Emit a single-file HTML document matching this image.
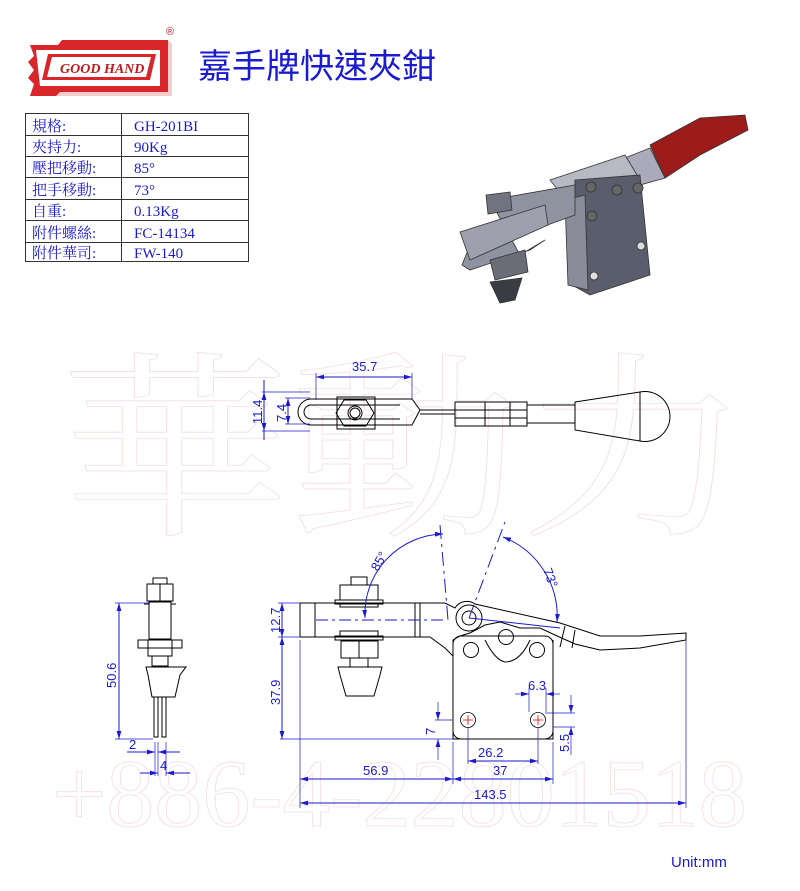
<!DOCTYPE html>
<html><head><meta charset="utf-8"><style>
html,body{margin:0;padding:0;background:#fff;}
body{width:800px;height:891px;position:relative;overflow:hidden;font-family:"Liberation Sans","Noto Sans CJK TC",sans-serif;}
svg{position:absolute;left:0;top:0;}
</style></head><body>
<svg width="800" height="891" viewBox="0 0 800 891" xmlns="http://www.w3.org/2000/svg">
<defs>
<marker id="a" viewBox="0 0 10 6" refX="10" refY="3" markerWidth="8" markerHeight="5" orient="auto-start-reverse" markerUnits="userSpaceOnUse"><path d="M0 0 L10 3 L0 6 Z" fill="#1a1ad0"/></marker>
</defs>
<!-- watermark -->
<g fill="none" stroke="#f4dede" stroke-width="0.8">
<text x="60" y="520" font-family="Liberation Serif,Noto Serif CJK SC,serif" font-size="200" textLength="690" lengthAdjust="spacingAndGlyphs">華動力</text>
<text x="52" y="826" font-family="Liberation Serif,serif" font-size="96" textLength="695" lengthAdjust="spacingAndGlyphs">+886-4-22801518</text>
</g>
<!-- logo -->
<g>
<path d="M40 48 L150 48 L152 40 L168 40 L172 44 L172 96 L40 96 Z" fill="#d33" opacity="0.25"/>
<path d="M30 45 L58 45 L62 40 L168 40 L168 92 L60 92 L56 96 L30 96 L34 84 L28 78 L34 70 L28 62 L34 56 Z" fill="#d8262a"/>
<path d="M36 50 L160 50 L160 86 L40 86 Z" fill="#fff"/>
<path d="M48 54 L156 54 L150 80 L42 80 Z" fill="#d8262a"/>
<path d="M52 57 L151 57 L146 77 L47 77 Z" fill="#fff"/>
<text x="60" y="73" font-family="Liberation Serif,serif" font-style="italic" font-weight="bold" font-size="14" fill="#c0181c">GOOD HAND</text>
<text x="166" y="35" font-size="11" fill="#c0181c">®</text>
</g>
<text x="198" y="78" font-family="Liberation Sans,Noto Sans CJK TC,sans-serif" font-size="34" fill="#1a1ad0">嘉手牌快速夾鉗</text>
<!-- table -->
<g stroke="#333" stroke-width="1" fill="none">
<rect x="25.5" y="113.5" width="223" height="148"/>
<line x1="121.5" y1="113" x2="121.5" y2="262"/>
<line x1="25" y1="135.5" x2="248" y2="135.5"/>
<line x1="25" y1="156.5" x2="248" y2="156.5"/>
<line x1="25" y1="177.5" x2="248" y2="177.5"/>
<line x1="25" y1="199.5" x2="248" y2="199.5"/>
<line x1="25" y1="220.5" x2="248" y2="220.5"/>
<line x1="25" y1="242.5" x2="248" y2="242.5"/>
</g>
<g font-family="Liberation Serif,Noto Serif CJK SC,serif" font-size="15" fill="#1a1ad0">
<text x="32" y="131">規格:</text><text x="134" y="131">GH-201BI</text>
<text x="32" y="152">夾持力:</text><text x="134" y="152">90Kg</text>
<text x="32" y="173">壓把移動:</text><text x="134" y="173">85°</text>
<text x="32" y="195">把手移動:</text><text x="134" y="195">73°</text>
<text x="32" y="216">自重:</text><text x="134" y="216">0.13Kg</text>
<text x="32" y="238">附件螺絲:</text><text x="134" y="238">FC-14134</text>
<text x="32" y="258">附件華司:</text><text x="134" y="258">FW-140</text>
</g>
<!-- 3D render approx -->
<g stroke="#333" stroke-width="0.8">
<path d="M650 145 L700 118 L745 115 L748 130 L700 155 L665 178 Z" fill="#9c1c1c"/>
<path d="M620 160 L650 148 L665 178 L640 185 Z" fill="#aab"/>
<path d="M550 180 L625 155 L640 180 L570 205 Z" fill="#b7b9c4"/>
<path d="M575 180 L640 175 L650 275 L590 295 L572 285 Z" fill="#5a5d6b"/>
<path d="M565 200 L585 195 L588 290 L568 285 Z" fill="#8a8d99"/>
<path d="M490 200 L575 185 L575 215 L520 235 L470 245 L462 265 L470 270 L530 250 L545 240 L520 255 Z" fill="#8f93a0"/>
<path d="M460 232 L545 205 L548 225 L470 260 Z" fill="#9ea1ad"/>
<path d="M486 195 L510 192 L512 210 L488 214 Z" fill="#707380"/>
<path d="M490 260 L525 250 L528 272 L495 280 Z" fill="#6a6d78"/>
<path d="M490 282 L522 278 L515 300 L500 303 Z" fill="#3a3c44"/>
<circle cx="591" cy="187" r="5" fill="#666"/><circle cx="617" cy="190" r="5" fill="#666"/><circle cx="638" cy="188" r="5" fill="#666"/>
<circle cx="592" cy="216" r="5" fill="#666"/><circle cx="641" cy="246" r="4" fill="#ddd"/><circle cx="594" cy="276" r="4" fill="#ddd"/>
</g>
<!-- top view -->
<g stroke="#000" stroke-width="1" fill="none">
<path d="M311 399 L412 399 L420 410 L412 425 L311 425 A13 13 0 0 1 311 399 Z"/>
<path d="M311 405 L400 405 M311 419 L400 419 M311 405 A7 7 0 0 0 311 419"/>
<path d="M420 410 L455 410 M420 414 L455 414"/>
<rect x="337" y="397" width="38" height="32"/>
<path d="M344 400 L366 400 L374 413 L366 426 L344 426 L336 413 Z"/>
<circle cx="355" cy="413" r="7"/><circle cx="355" cy="413" r="5"/>
<rect x="455" y="402" width="72" height="24"/>
<line x1="455" y1="410" x2="527" y2="410"/><line x1="455" y1="418" x2="527" y2="418"/>
<line x1="485" y1="402" x2="485" y2="426"/><line x1="510" y1="402" x2="510" y2="426"/>
<rect x="527" y="405" width="48" height="18"/>
<path d="M575 402 L640 392 A25 25 0 1 1 640 441 L575 430 Z"/>
<line x1="640" y1="392" x2="640" y2="441"/>
</g>
<g stroke="#1a1ad0" stroke-width="1" fill="#1a1ad0" font-family="Liberation Sans,sans-serif" font-size="13">
<line x1="316" y1="373" x2="316" y2="400" stroke-width="0.7"/><line x1="412" y1="373" x2="412" y2="400" stroke-width="0.7"/>
<line x1="316" y1="377" x2="412" y2="377" marker-start="url(#a)" marker-end="url(#a)"/>
<text x="352" y="371" stroke="none">35.7</text>
<line x1="264" y1="392" x2="264" y2="431" marker-start="url(#a)" marker-end="url(#a)"/><line x1="264" y1="380" x2="264" y2="440"/><line x1="262" y1="392" x2="310" y2="392" stroke-width="0.7"/><line x1="262" y1="431" x2="310" y2="431" stroke-width="0.7"/>
<line x1="288" y1="398" x2="288" y2="424" marker-start="url(#a)" marker-end="url(#a)"/><line x1="285" y1="398" x2="310" y2="398" stroke-width="0.7"/><line x1="285" y1="424" x2="310" y2="424" stroke-width="0.7"/>
<text transform="translate(262,424) rotate(-90)" stroke="none">11.4</text>
<text transform="translate(286,422) rotate(-90)" stroke="none">7.4</text>
</g>
<!-- side view -->
<g stroke="#000" stroke-width="1" fill="none">
<rect x="153" y="578" width="14" height="6"/>
<rect x="147" y="584" width="26" height="17"/><line x1="160" y1="584" x2="160" y2="601"/>
<rect x="149" y="602" width="22" height="37"/>
<path d="M144 604 L149 604 M171 604 L176 604"/>
<path d="M138 640 L182 640 L182 648 L138 648 Z"/>
<rect x="148" y="640" width="24" height="16"/>
<rect x="152" y="656" width="16" height="10"/>
<path d="M146 667 L186 667 L180 675 L175 697 L152 697 L148 675 Z"/>
<rect x="154" y="697" width="4" height="40"/><rect x="162" y="697" width="4" height="40"/>
</g>
<g stroke="#1a1ad0" stroke-width="1" fill="#1a1ad0" font-family="Liberation Sans,sans-serif" font-size="13">
<line x1="119" y1="603" x2="119" y2="739" marker-start="url(#a)" marker-end="url(#a)"/><line x1="115" y1="603" x2="150" y2="603" stroke-width="0.7"/><line x1="115" y1="739" x2="153" y2="739" stroke-width="0.7"/>
<text transform="translate(116,688) rotate(-90)" stroke="none">50.6</text>
<line x1="155" y1="742" x2="155" y2="776" stroke-width="0.7"/><line x1="158" y1="742" x2="158" y2="776" stroke-width="0.7"/><line x1="166" y1="742" x2="166" y2="776" stroke-width="0.7"/>
<line x1="127" y1="752" x2="155" y2="752" marker-end="url(#a)"/><line x1="180" y1="752" x2="158" y2="752" marker-end="url(#a)"/>
<line x1="140" y1="773" x2="158" y2="773" marker-end="url(#a)"/><line x1="190" y1="773" x2="166" y2="773" marker-end="url(#a)"/>
<text x="129" y="749" stroke="none">2</text><text x="160" y="770" stroke="none">4</text>
</g>
<!-- front view -->
<g stroke="#000" stroke-width="1" fill="none">
<path d="M300 603 L445 603 L455 608 A14 14 0 0 1 475 604 L560 623 L600 636 L640 636 L686 633 L686 640 L640 648 L600 650 L575 644 L555 635 L540 628 L520 628 L500 622 L485 625 L470 633 L460 636 L453 640 L453 739 L553 739 L553 640"/>
<path d="M300 603 L300 637 L430 637 L445 648 L453 656"/>
<line x1="315" y1="603" x2="315" y2="637"/><line x1="415" y1="603" x2="415" y2="637"/><line x1="420" y1="603" x2="420" y2="637"/>
<path d="M340 585 L378 585 L378 600 L340 600 Z"/><rect x="351" y="577" width="16" height="8"/>
<rect x="335" y="600" width="48" height="4"/><rect x="340" y="604" width="38" height="3"/>
<rect x="340" y="631" width="38" height="5"/><rect x="335" y="636" width="48" height="4"/>
<rect x="341" y="641" width="37" height="17"/><line x1="359" y1="641" x2="359" y2="658"/>
<rect x="350" y="658" width="18" height="9"/>
<path d="M338 667 L382 667 L380 675 L374 696 L346 696 L340 675 Z"/>
<rect x="453" y="636" width="100" height="103" rx="8"/>
<circle cx="469" cy="618" r="13"/><circle cx="469" cy="618" r="7"/>
<circle cx="471" cy="650" r="7.5"/><circle cx="506" cy="637" r="7.5"/><circle cx="537" cy="650" r="7.5"/>
<path d="M485 640 Q495 660 505 662 Q520 662 530 640"/>
<path d="M565 626 L560 647 M575 630 L572 648"/>
</g>
<g stroke="#d00" stroke-width="0.8" fill="none">
<circle cx="468" cy="720" r="7.5" stroke="#000"/><circle cx="538" cy="720" r="7.5" stroke="#000"/>
<path d="M463 720 L473 720 M468 715 L468 725 M533 720 L543 720 M538 715 L538 725"/>
</g>
<g stroke="#1a1ad0" stroke-width="1" fill="#1a1ad0" font-family="Liberation Sans,sans-serif" font-size="13">
<line x1="316" y1="620" x2="445" y2="620" stroke-dasharray="12 4 3 4"/>
<line x1="469" y1="618" x2="560" y2="628"/>
<path d="M365 618 A80 80 0 0 1 443 534" fill="none" marker-start="url(#a)" marker-end="url(#a)"/>
<line x1="440" y1="525" x2="448" y2="620" stroke-dasharray="14 5 3 5"/>
<line x1="469" y1="618" x2="505" y2="522" stroke-dasharray="14 5 3 5"/>
<path d="M503 537 A85 85 0 0 1 557 622" fill="none" marker-start="url(#a)" marker-end="url(#a)"/>
<text transform="translate(378,572) rotate(-60)" stroke="none">85°</text>
<text transform="translate(543,570) rotate(70)" stroke="none">73°</text>
<line x1="282" y1="603" x2="282" y2="637" marker-start="url(#a)" marker-end="url(#a)"/>
<line x1="282" y1="637" x2="282" y2="739" marker-start="url(#a)" marker-end="url(#a)"/>
<line x1="278" y1="603" x2="300" y2="603" stroke-width="0.7"/><line x1="278" y1="637" x2="300" y2="637" stroke-width="0.7"/>
<line x1="280" y1="739" x2="453" y2="739" stroke-width="0.7"/>
<text transform="translate(280,633) rotate(-90)" stroke="none">12.7</text>
<text transform="translate(280,705) rotate(-90)" stroke="none">37.9</text>
<line x1="300" y1="640" x2="300" y2="808" stroke-width="0.7"/>
<line x1="453" y1="742" x2="453" y2="784" stroke-width="0.7"/><line x1="553" y1="742" x2="553" y2="784" stroke-width="0.7"/>
<line x1="686" y1="640" x2="686" y2="808" stroke-width="0.7"/>
<line x1="468" y1="727" x2="468" y2="764" stroke-width="0.7"/><line x1="538" y1="727" x2="538" y2="764" stroke-width="0.7"/>
<line x1="300" y1="779" x2="453" y2="779" marker-start="url(#a)" marker-end="url(#a)"/><line x1="453" y1="779" x2="553" y2="779" marker-start="url(#a)" marker-end="url(#a)"/>
<line x1="300" y1="803" x2="686" y2="803" marker-start="url(#a)" marker-end="url(#a)"/>
<line x1="468" y1="761" x2="538" y2="761" marker-start="url(#a)" marker-end="url(#a)"/>
<text x="363" y="775" stroke="none">56.9</text><text x="493" y="775" stroke="none">37</text>
<text x="478" y="757" stroke="none">26.2</text><text x="474" y="799" stroke="none">143.5</text>
<line x1="438" y1="702" x2="438" y2="720" stroke-width="0.7" marker-end="url(#a)"/><line x1="438" y1="760" x2="438" y2="739" stroke-width="0.7" marker-end="url(#a)"/><line x1="435" y1="720" x2="453" y2="720" stroke-width="0.7"/>
<text transform="translate(435,735) rotate(-90)" stroke="none">7</text>
<line x1="515" y1="694" x2="529" y2="694" stroke-width="0.7" marker-end="url(#a)"/><line x1="560" y1="694" x2="546" y2="694" stroke-width="0.7" marker-end="url(#a)"/><line x1="529" y1="688" x2="529" y2="712" stroke-width="0.7"/><line x1="546" y1="688" x2="546" y2="712" stroke-width="0.7"/>
<text x="528" y="690" stroke="none">6.3</text>
<line x1="571" y1="695" x2="571" y2="713" stroke-width="0.7" marker-end="url(#a)"/><line x1="571" y1="755" x2="571" y2="727" stroke-width="0.7" marker-end="url(#a)"/><line x1="545" y1="713" x2="575" y2="713" stroke-width="0.7"/><line x1="553" y1="727" x2="575" y2="727" stroke-width="0.7"/>
<text transform="translate(569,752) rotate(-90)" stroke="none">5.5</text>
</g>
<text x="671" y="867" font-family="Liberation Sans,sans-serif" font-size="15" fill="#1a1ad0">Unit:mm</text>
</svg>
</body></html>
